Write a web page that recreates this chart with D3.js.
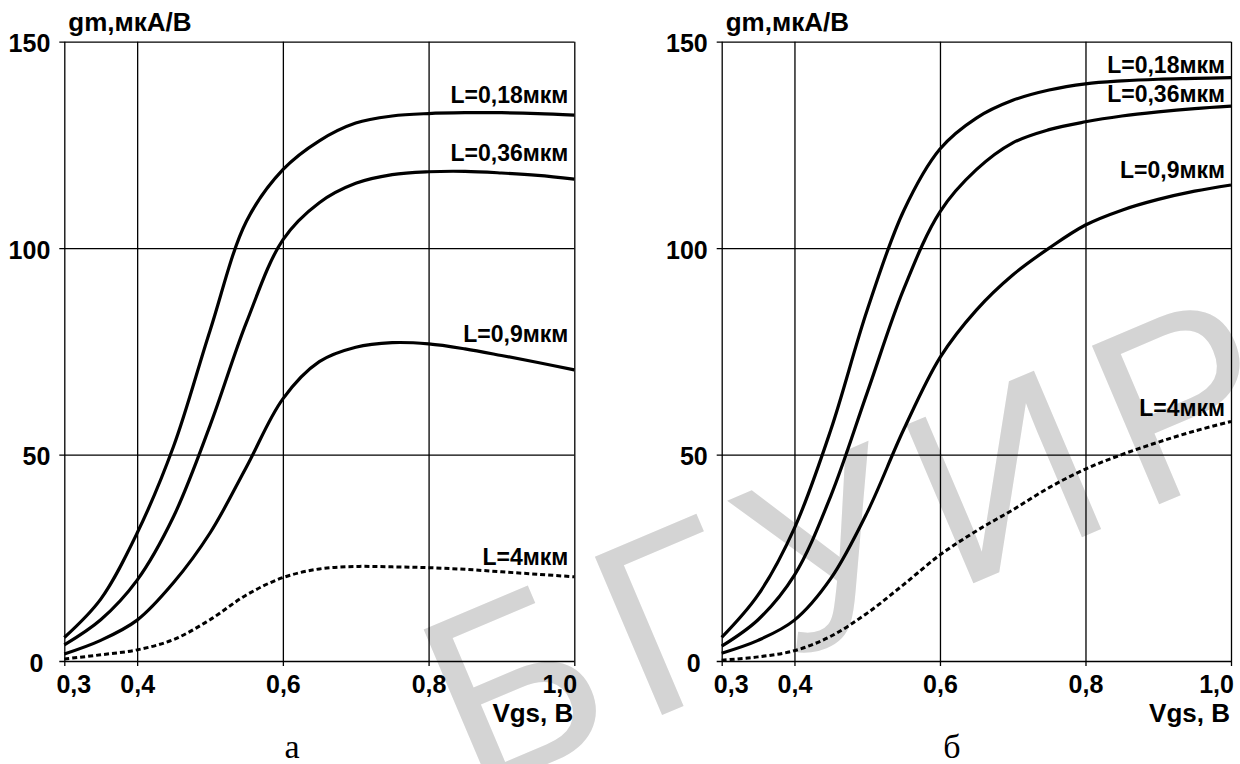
<!DOCTYPE html>
<html>
<head>
<meta charset="utf-8">
<script src="https://cdn.jsdelivr.net/npm/d3@7"></script>
<style>
  body { margin: 0; background: #fff; }
  svg text { font-family: "Liberation Sans", Arial, sans-serif; font-weight: bold; fill: #000; }
</style>
</head>
<body>
<svg id="chart" width="1240" height="764"></svg>
<script>
// gate voltage, V
var vgs = [0.30, 0.35, 0.40, 0.45, 0.50, 0.55, 0.60, 0.65, 0.70, 0.75, 0.80, 0.85, 0.90, 0.95, 1.00];

// panel "а", gm in мкА/В
var a_018 = [5.7, 15, 31, 52, 80, 106.5, 119, 126, 130.3, 132, 132.6, 132.8, 132.8, 132.6, 132.2];
var a_036 = [3.9, 10, 19.6, 35, 57, 82, 102, 111, 115.7, 117.8, 118.5, 118.6, 118.2, 117.6, 116.7];
var a_09  = [1.7, 5, 9.9, 19, 31, 47, 63.5, 72.5, 76, 77.1, 76.8, 75.6, 74, 72.3, 70.5];
var a_4   = [0.5, 1.5, 2.7, 5.2, 10, 16, 20.2, 22.3, 22.9, 22.8, 22.6, 22.2, 21.6, 21, 20.4];

// panel "б"
var b_018 = [5.7, 16, 32.2, 56, 85, 109, 124, 131.5, 135.8, 138.3, 139.8, 140.5, 140.9, 141.1, 141.3];
var b_036 = [3.6, 10, 20.8, 40, 65, 90, 108.8, 119, 125.5, 128.7, 130.6, 132, 133, 133.8, 134.4];
var b_09  = [1.9, 5, 9.9, 20, 36, 56, 73.5, 85, 93.5, 100, 105.6, 109.2, 111.8, 113.8, 115.3];
var b_4   = [0.2, 1, 2.5, 6, 11.6, 18.5, 25.7, 31.5, 36.6, 42, 46.5, 50, 53, 55.7, 58];

var curveNames = ["L=0,18мкм", "L=0,36мкм", "L=0,9мкм", "L=4мкм"];
var xTicks = [0.3, 0.4, 0.6, 0.8, 1.0];
var xTickLabels = ["0,3", "0,4", "0,6", "0,8", "1,0"];
var yTicks = [0, 50, 100, 150];
var yTitle = "gm,мкА/В";
var xTitle = "Vgs, B";

var svg = d3.select("#chart");

// watermark behind everything
svg.append("text")
    .attr("transform", "translate(472,796) rotate(-23)")
    .style("font-family", "'Liberation Sans', Arial, sans-serif")
    .style("font-weight", "normal")
    .style("font-size", "250px")
    .style("letter-spacing", "22px")
    .style("fill", "#d4d4d4")
    .text("БГУИР");

var plotTop = 41.7, plotBottom = 661;

function drawPanel(left, right, series, labelAt, caption, captionX) {
    var x = d3.scaleLinear().domain([0.3, 1.0]).range([left, right]);
    var y = d3.scaleLinear().domain([0, 150]).range([plotBottom, plotTop]);
    var w = right - left, h = plotBottom - plotTop;
    var g = svg.append("g");

    // horizontal grid + y labels
    var ya = g.append("g")
        .attr("transform", "translate(" + (left - 5) + ",0)")
        .call(d3.axisLeft(y).tickValues(yTicks).tickSize(-(w + 5)).tickPadding(9));
    ya.select(".domain").remove();
    ya.selectAll("line").attr("stroke", "#000").attr("stroke-width", 1.3);
    ya.selectAll("text").style("font-size", "25px").attr("dy", "0.4em")
        .attr("dx", function(d) { return d === 0 ? -7 : 0; });

    // vertical grid + x labels
    var xa = g.append("g")
        .attr("transform", "translate(0," + (plotBottom + 5) + ")")
        .call(d3.axisBottom(x).tickValues(xTicks).tickSize(-(h + 5)).tickPadding(9)
            .tickFormat(function(d, i) { return xTickLabels[i]; }));
    xa.select(".domain").remove();
    xa.selectAll("line").attr("stroke", "#000").attr("stroke-width", 1.3);
    xa.selectAll("text").style("font-size", "25px")
        .attr("dx", function(d) { return d === 0.3 ? 9 : (d === 1.0 ? -15 : 0); });

    var line = d3.line()
        .x(function(d, i) { return x(vgs[i]); })
        .y(function(d) { return y(d); })
        .curve(d3.curveCatmullRom.alpha(0.5));

    series.forEach(function(s, k) {
        g.append("path")
            .attr("d", line(s))
            .attr("fill", "none")
            .attr("stroke", "#000")
            .attr("stroke-width", k === 3 ? 3 : 3.2)
            .attr("stroke-dasharray", k === 3 ? "5,3" : null);
        g.append("text")
            .attr("x", right - 6)
            .attr("y", y(labelAt[k]))
            .attr("text-anchor", "end")
            .style("font-size", "23px")
            .text(curveNames[k]);
    });

    g.append("text")
        .attr("x", left + 4).attr("y", 31)
        .style("font-size", "26px")
        .text(yTitle);
    g.append("text")
        .attr("x", right - 1).attr("y", 722)
        .attr("text-anchor", "end")
        .style("font-size", "26px")
        .text(xTitle);
    g.append("text")
        .attr("x", captionX).attr("y", 758)
        .attr("text-anchor", "middle")
        .style("font-family", "'Liberation Serif', 'Times New Roman', serif")
        .style("font-weight", "normal")
        .style("font-size", "34px")
        .text(caption);
}

drawPanel(64.3, 574.3, [a_018, a_036, a_09, a_4], [135.2, 121.1, 77.3, 23.3], "а", 292);
drawPanel(721.7, 1231, [b_018, b_036, b_09, b_4], [142.4, 135.5, 117, 59.3], "б", 952);
</script>
</body>
</html>
